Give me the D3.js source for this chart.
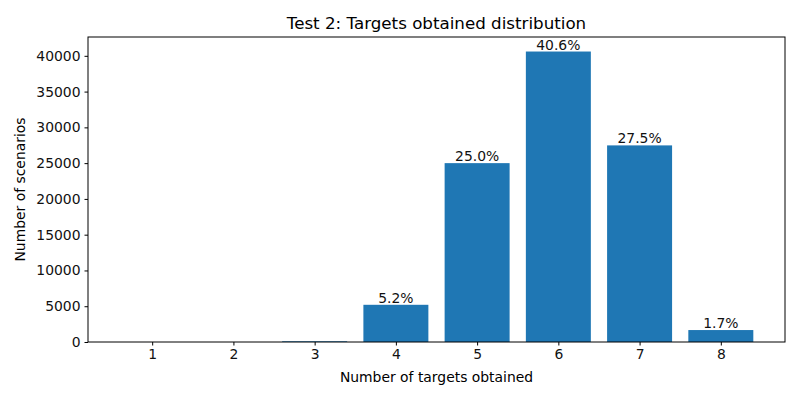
<!DOCTYPE html>
<html>
<head>
<meta charset="utf-8">
<script src="https://cdn.jsdelivr.net/npm/d3@7"></script>
<style>
  body { margin: 0; background: white; }
  svg { overflow: visible; display: block; }
  text { font-family: "DejaVu Sans", sans-serif; }
</style>
</head>
<body>
<div id="plot"></div>
<script>
// targets obtained distribution
const targets = [1, 2, 3, 4, 5, 6, 7, 8];
const scenarios = [0, 0, 100, 5200, 25000, 40600, 27480, 1670];
const yTicks = [0, 5000, 10000, 15000, 20000, 25000, 30000, 35000, 40000];

const w = 800;
const h = 400;
const margin = {top: 37, right: 15, bottom: 58, left: 88};
const innerWidth = w - margin.left - margin.right;
const innerHeight = h - margin.top - margin.bottom;
const fs = "13.9px";

const total = d3.sum(scenarios);
const rows = targets.map((t, i) => ({t: t, n: scenarios[i]}));

const svg = d3.select("div#plot")
      .append("svg")
      .attr("width", w)
      .attr("height", h);

svg.append("rect")
      .attr("width", w)
      .attr("height", h)
      .attr("fill", "white");

const xScale = d3.scaleLinear()
      .domain([0.21, 8.79])
      .range([0, innerWidth]);

const yScale = d3.scaleLinear()
      .domain([0, d3.max(scenarios) * 1.05])
      .range([innerHeight, 0]);

const g = svg.append("g")
      .attr("transform", `translate(${margin.left}, ${margin.top})`);

// bars
g.selectAll(".bar")
      .data(rows)
      .enter()
      .append("rect")
      .attr("class", "bar")
      .attr("x", d => xScale(d.t - 0.4))
      .attr("y", d => yScale(d.n))
      .attr("width", xScale(0.8) - xScale(0))
      .attr("height", d => innerHeight - yScale(d.n))
      .attr("fill", "#1f77b4");

// percentage labels (only for bars >= 1%)
g.selectAll(".lbl")
      .data(rows.filter(d => d.n / total >= 0.01))
      .enter()
      .append("text")
      .attr("class", "lbl")
      .attr("x", d => xScale(d.t))
      .attr("y", d => yScale(d.n) - 2)
      .attr("text-anchor", "middle")
      .attr("font-size", fs)
      .attr("fill", "#111")
      .text(d => (d.n / total * 100).toFixed(1) + "%");

// axes
const xAxis = g.append("g")
      .attr("transform", `translate(0, ${innerHeight})`)
      .call(d3.axisBottom(xScale).tickValues(targets).tickSize(3.5).tickPadding(4).tickFormat(d3.format("d")));

const yAxis = g.append("g")
      .call(d3.axisLeft(yScale).tickValues(yTicks).tickSize(3.5).tickPadding(4).tickFormat(d3.format("d")));

[xAxis, yAxis].forEach(a => {
  a.selectAll("text").attr("font-size", fs).attr("fill", "#111").attr("font-family", "DejaVu Sans");
  a.select(".domain").remove();
  a.selectAll("line").attr("stroke", "black");
});

// frame
g.append("rect")
      .attr("width", innerWidth)
      .attr("height", innerHeight)
      .attr("fill", "none")
      .attr("stroke", "black")
      .attr("stroke-width", 1);

// title & labels
svg.append("text")
      .attr("x", margin.left + innerWidth / 2)
      .attr("y", 29)
      .attr("text-anchor", "middle")
      .attr("font-size", "16.7px")
      .text("Test 2: Targets obtained distribution");

svg.append("text")
      .attr("x", margin.left + innerWidth / 2)
      .attr("y", 382)
      .attr("text-anchor", "middle")
      .attr("font-size", fs)
      .text("Number of targets obtained");

svg.append("text")
      .attr("transform", `translate(25, ${margin.top + innerHeight / 2}) rotate(-90)`)
      .attr("text-anchor", "middle")
      .attr("font-size", fs)
      .text("Number of scenarios");
</script>
</body>
</html>
